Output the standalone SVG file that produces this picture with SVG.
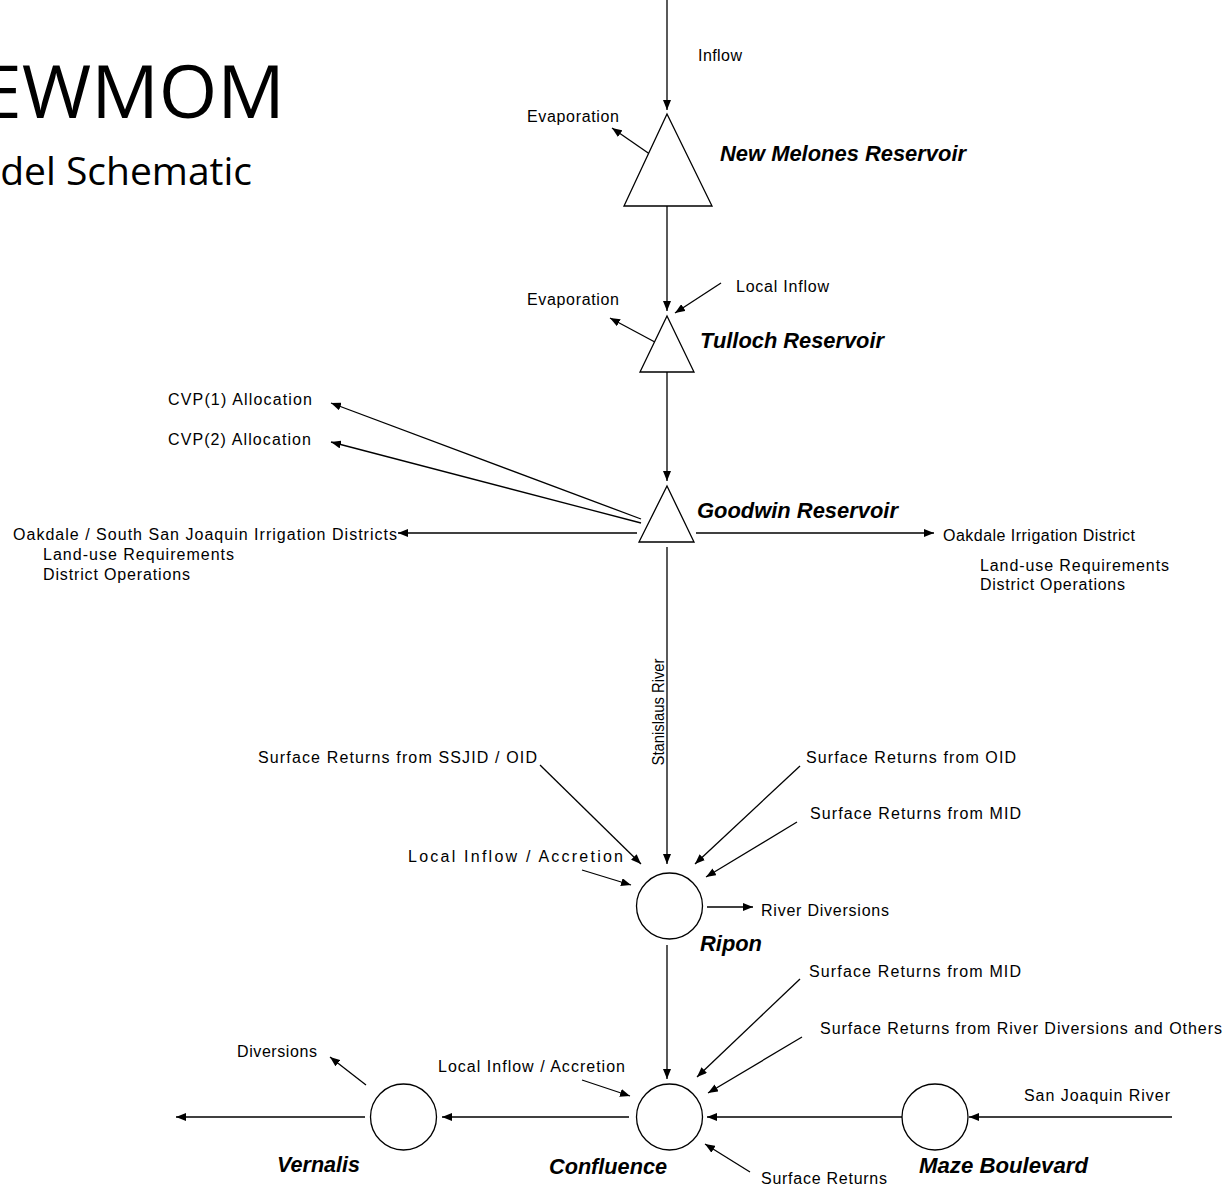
<svg xmlns="http://www.w3.org/2000/svg" width="1232" height="1191" viewBox="0 0 1232 1191">
<style>
.t{font-family:"Liberation Sans",Arial,sans-serif;font-size:16px;fill:#000}
.n{font-family:"Liberation Sans",Arial,sans-serif;font-size:22px;font-weight:bold;font-style:italic;fill:#000}
.ttl{font-family:"Open Sans","Noto Sans",sans-serif;fill:#000}
.c{stroke:#000;stroke-width:1.3;fill:none}
.s{stroke:#000;stroke-width:1.3;fill:#fff}
</style>
<defs>
<marker id="ah" viewBox="0 0 10 8" refX="10" refY="4" markerWidth="10" markerHeight="8" orient="auto" markerUnits="userSpaceOnUse"><path d="M0,0 L10,4 L0,8 z" fill="#000"/></marker>
</defs>
<rect width="1232" height="1191" fill="#fff"/>
<g id="title">
<text class="ttl" x="285" y="118" font-size="74" text-anchor="end" textLength="305" lengthAdjust="spacingAndGlyphs">EWMOM</text>
<text class="ttl" x="252" y="185" font-size="39" text-anchor="end">del Schematic</text>
</g>
<g id="connectors">
<line class="c" x1="667" y1="0" x2="667" y2="110" marker-end="url(#ah)"/>
<line class="c" x1="667" y1="166" x2="612" y2="128" marker-end="url(#ah)"/>
<line class="c" x1="667" y1="206" x2="667" y2="311" marker-end="url(#ah)"/>
<line class="c" x1="721" y1="283" x2="675" y2="313" marker-end="url(#ah)"/>
<line class="c" x1="666" y1="348" x2="610" y2="318" marker-end="url(#ah)"/>
<line class="c" x1="667" y1="372" x2="667" y2="481" marker-end="url(#ah)"/>
<line class="c" x1="641" y1="519" x2="331" y2="403" marker-end="url(#ah)"/>
<line class="c" x1="641" y1="523" x2="331" y2="442" marker-end="url(#ah)"/>
<line class="c" x1="637" y1="533" x2="398" y2="533" marker-end="url(#ah)"/>
<line class="c" x1="696" y1="533" x2="934" y2="533" marker-end="url(#ah)"/>
<line class="c" x1="667" y1="547" x2="667" y2="864" marker-end="url(#ah)"/>
<line class="c" x1="540" y1="765" x2="641" y2="864" marker-end="url(#ah)"/>
<line class="c" x1="800" y1="766" x2="695" y2="864" marker-end="url(#ah)"/>
<line class="c" x1="797" y1="822" x2="706" y2="877" marker-end="url(#ah)"/>
<line class="c" x1="582" y1="870" x2="631" y2="885" marker-end="url(#ah)"/>
<line class="c" x1="707" y1="907" x2="753" y2="907" marker-end="url(#ah)"/>
<line class="c" x1="667" y1="945" x2="667" y2="1079" marker-end="url(#ah)"/>
<line class="c" x1="800" y1="979" x2="697" y2="1077" marker-end="url(#ah)"/>
<line class="c" x1="802" y1="1037" x2="708" y2="1093" marker-end="url(#ah)"/>
<line class="c" x1="582" y1="1080" x2="630" y2="1096" marker-end="url(#ah)"/>
<line class="c" x1="750" y1="1172" x2="705" y2="1144" marker-end="url(#ah)"/>
<line class="c" x1="1172" y1="1117" x2="969" y2="1117" marker-end="url(#ah)"/>
<line class="c" x1="902" y1="1117" x2="707" y2="1117" marker-end="url(#ah)"/>
<line class="c" x1="629" y1="1117" x2="442" y2="1117" marker-end="url(#ah)"/>
<line class="c" x1="366" y1="1085" x2="330" y2="1057" marker-end="url(#ah)"/>
<line class="c" x1="365" y1="1117" x2="176" y2="1117" marker-end="url(#ah)"/>
<text class="t" x="698" y="61" textLength="44" lengthAdjust="spacing">Inflow</text>
<text class="t" x="527" y="122" textLength="92" lengthAdjust="spacing">Evaporation</text>
<text class="t" x="736" y="292" textLength="93" lengthAdjust="spacing">Local Inflow</text>
<text class="t" x="527" y="305" textLength="92" lengthAdjust="spacing">Evaporation</text>
<text class="t" x="168" y="405" textLength="144" lengthAdjust="spacing">CVP(1) Allocation</text>
<text class="t" x="168" y="445" textLength="143" lengthAdjust="spacing">CVP(2) Allocation</text>
<text class="t" x="13" y="540" textLength="384" lengthAdjust="spacing">Oakdale / South San Joaquin Irrigation Districts</text>
<text class="t" x="43" y="560" textLength="191" lengthAdjust="spacing">Land-use Requirements</text>
<text class="t" x="43" y="580" textLength="147" lengthAdjust="spacing">District Operations</text>
<text class="t" x="943" y="541" textLength="192" lengthAdjust="spacing">Oakdale Irrigation District</text>
<text class="t" x="980" y="571" textLength="189" lengthAdjust="spacing">Land-use Requirements</text>
<text class="t" x="980" y="590" textLength="145" lengthAdjust="spacing">District Operations</text>
<text class="t" transform="translate(664,712) rotate(-90)" text-anchor="middle" textLength="107" lengthAdjust="spacingAndGlyphs">Stanislaus River</text>
<text class="t" x="258" y="763" textLength="279" lengthAdjust="spacing">Surface Returns from SSJID / OID</text>
<text class="t" x="806" y="763" textLength="210" lengthAdjust="spacing">Surface Returns from OID</text>
<text class="t" x="810" y="819" textLength="211" lengthAdjust="spacing">Surface Returns from MID</text>
<text class="t" x="408" y="862" textLength="215" lengthAdjust="spacing">Local Inflow / Accretion</text>
<text class="t" x="761" y="916" textLength="128" lengthAdjust="spacing">River Diversions</text>
<text class="t" x="809" y="977" textLength="212" lengthAdjust="spacing">Surface Returns from MID</text>
<text class="t" x="820" y="1034" textLength="402" lengthAdjust="spacing">Surface Returns from River Diversions and Others</text>
<text class="t" x="438" y="1072" textLength="187" lengthAdjust="spacing">Local Inflow / Accretion</text>
<text class="t" x="237" y="1057" textLength="80" lengthAdjust="spacing">Diversions</text>
<text class="t" x="1024" y="1101" textLength="146" lengthAdjust="spacing">San Joaquin River</text>
<text class="t" x="761" y="1184" textLength="126" lengthAdjust="spacing">Surface Returns</text>
</g>
<g id="new-melones">
<path class="s" d="M667,114 L712,206 L624,206 Z"/>
<text class="n" x="720" y="161" textLength="246" lengthAdjust="spacingAndGlyphs">New Melones Reservoir</text>
</g>
<g id="tulloch">
<path class="s" d="M667,316 L694,372 L640,372 Z"/>
<text class="n" x="700" y="348" textLength="184" lengthAdjust="spacingAndGlyphs">Tulloch Reservoir</text>
</g>
<g id="goodwin">
<path class="s" d="M667,486 L694,542 L639,542 Z"/>
<text class="n" x="697" y="518" textLength="201" lengthAdjust="spacingAndGlyphs">Goodwin Reservoir</text>
</g>
<g id="ripon">
<circle class="s" cx="669.5" cy="906" r="33"/>
<text class="n" x="700" y="951" textLength="62" lengthAdjust="spacingAndGlyphs">Ripon</text>
</g>
<g id="confluence">
<circle class="s" cx="669.5" cy="1117" r="33"/>
<text class="n" x="549" y="1174" textLength="118" lengthAdjust="spacingAndGlyphs">Confluence</text>
</g>
<g id="vernalis">
<circle class="s" cx="403.5" cy="1117" r="33"/>
<text class="n" x="277" y="1172" textLength="83" lengthAdjust="spacingAndGlyphs">Vernalis</text>
</g>
<g id="maze-boulevard">
<circle class="s" cx="935" cy="1117" r="33"/>
<text class="n" x="919" y="1173" textLength="169" lengthAdjust="spacingAndGlyphs">Maze Boulevard</text>
</g>
</svg>
